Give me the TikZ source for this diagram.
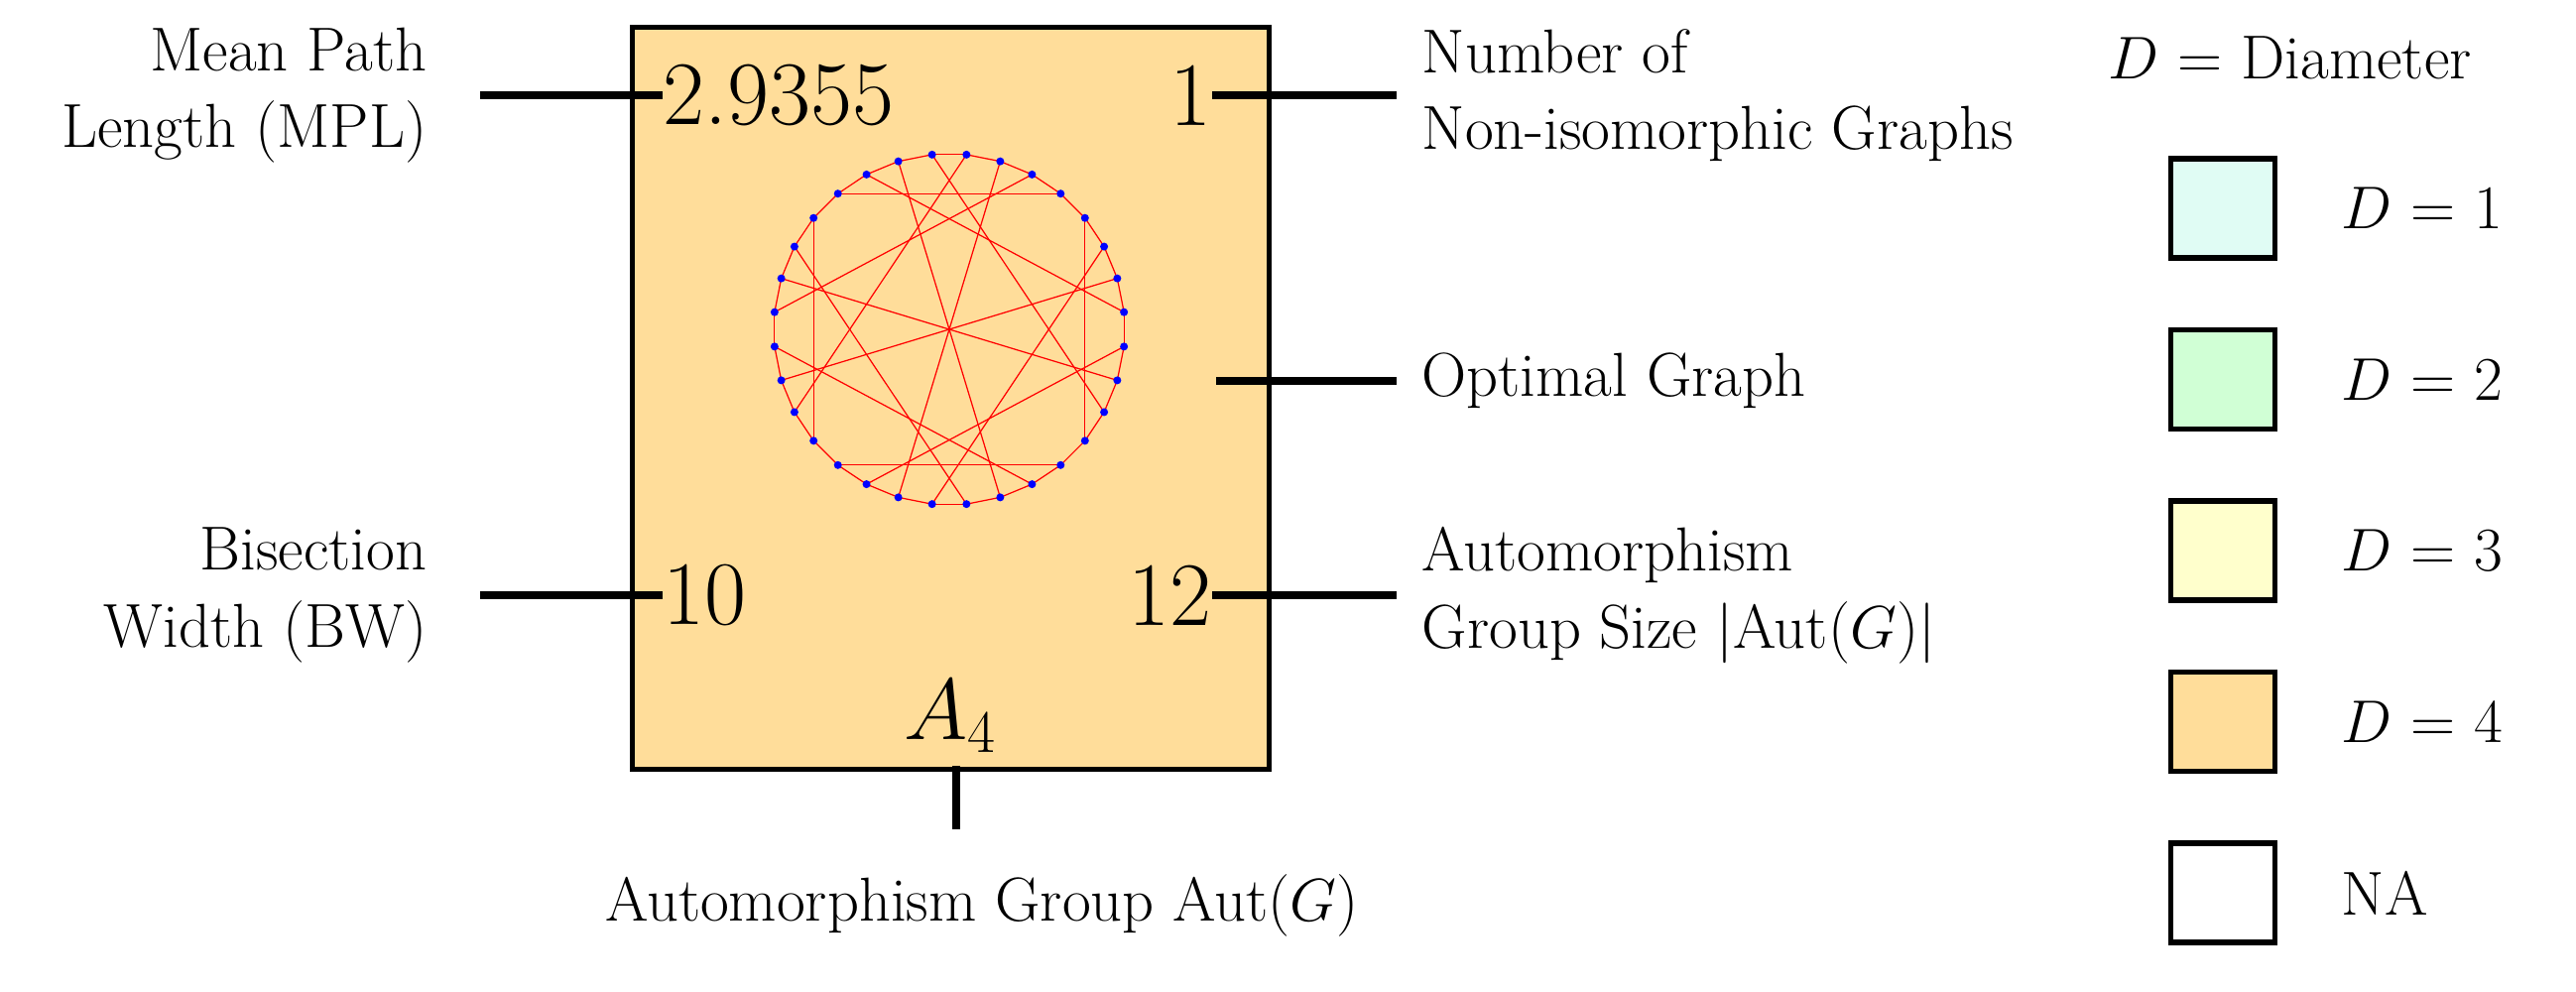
\documentclass[tikz,border=0pt]{standalone}
\usetikzlibrary{calc}
\begin{document}
\begin{tikzpicture}[x=0.01cm,y=-0.01cm,
  lbl/.style={font=\fontsize{17.8}{22}\selectfont, inner sep=0pt},
  num/.style={font=\fontsize{26}{30}\selectfont, inner sep=0pt},
  conn/.style={line width=2.2pt},
  legbox/.style={draw, line width=1.6pt, minimum width=1.05cm, minimum height=1.0cm, inner sep=0pt},
  gedge/.style={red, line width=0.35pt},
  gdot/.style={circle, fill=blue, inner sep=0pt, minimum size=0.08cm}]
\useasboundingbox (0,0) rectangle (2597,999);
\definecolor{cA}{HTML}{E0FCF4}
\definecolor{cB}{HTML}{D0FFD5}
\definecolor{cC}{HTML}{FFFFCC}
\definecolor{cD}{HTML}{FFDD9A}
% main box
\node[draw, line width=1.4pt, fill=cD, minimum width=6.41cm, minimum height=7.47cm, inner sep=0pt] (box) at (958.5,401.5) {};
% graph
\foreach \k in {0,...,31}{
  \coordinate (v\k) at ($(957,332)+({177*cos(84.375-11.25*\k)},{-177*sin(84.375-11.25*\k)})$);
}
\foreach \k [evaluate=\k as \n using {int(mod(\k+1,32))}] in {0,...,31}{
  \draw[gedge] (v\k) -- (v\n);
}
\foreach \a/\b in {0/21,1/17,2/24,3/28,4/11,5/16,6/22,7/29,8/18,9/25,10/31,12/19,13/23,14/30,15/26,20/27}{
  \draw[gedge] (v\a) -- (v\b);
}
\foreach \k in {0,...,31}{ \node[gdot] at (v\k) {}; }
% numbers
\node[num, anchor=west] (mpl) at (668,96) {2.9355};
\node[num, anchor=east] (niso) at (1222,96) {1};
\node[num, anchor=west] (bw) at (668,600) {10};
\node[num, anchor=east] (aut) at (1222,600) {12};
\node[num] (grp) at (958,722) {$A_4$};
\coordinate (opt) at (1226,384);
% labels
\node[lbl, anchor=east, align=right] (lmpl) at (431,96) {Mean Path\\Length (MPL)};
\node[lbl, anchor=east, align=right] (lbw) at (431,600) {Bisection\\Width (BW)};
\node[lbl, anchor=west, align=left] (lniso) at (1433,96) {Number of\\Non-isomorphic Graphs};
\node[lbl, anchor=west, align=left] (lopt) at (1433,384) {Optimal Graph};
\node[lbl, anchor=west, align=left] (laut) at (1433,600) {Automorphism\\Group Size $|$Aut($G$)$|$};
\node[lbl] (lgrp) at (990,913) {Automorphism Group Aut($G$)};
% connectors
\draw[conn] (484,96) -- (mpl.west);
\draw[conn] (484,600) -- (bw.west);
\draw[conn] (niso.east) -- (1408,96);
\draw[conn] (opt) -- (1408,384);
\draw[conn] (aut.east) -- (1408,600);
\draw[conn] (964,772) -- (964,836);
% legend
\node[lbl, anchor=west] (lt) at (2125,58) {$D$ = Diameter};
\foreach \i/\c/\t in {1/cA/{$D$ = 1},2/cB/{$D$ = 2},3/cC/{$D$ = 3},4/cD/{$D$ = 4},5/white/{NA}}{
  \node[legbox, fill=\c] (b\i) at (2241,{210+172.5*(\i-1)}) {};
  \node[lbl, anchor=west] (t\i) at (2360,{210+172.5*(\i-1)}) {\t};
}
\end{tikzpicture}
\end{document}
